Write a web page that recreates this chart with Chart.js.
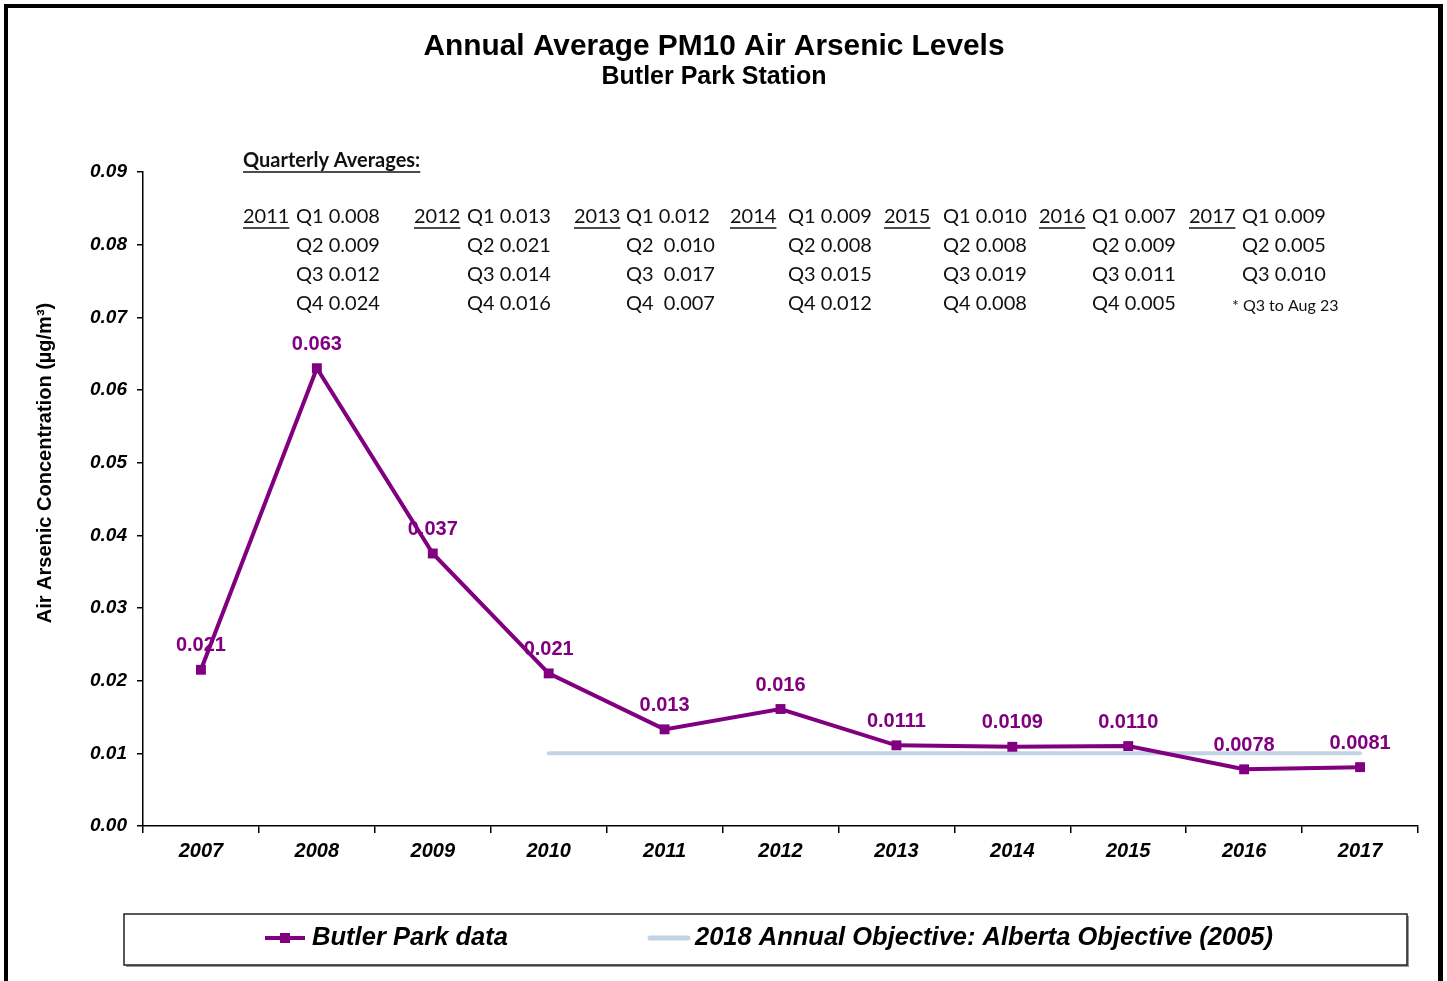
<!DOCTYPE html>
<html>
<head>
<meta charset="utf-8">
<script src="https://cdn.jsdelivr.net/npm/chart.js@4/dist/chart.umd.min.js"></script>
<style>
  html, body { margin: 0; padding: 0; background: #fff; }
  #wrap { width: 1447px; height: 981px; }
</style>
</head>
<body>
<div id="wrap"><canvas id="chart" width="1447" height="981"></canvas></div>
<script>
// annual averages, µg/m³
const years = ["2007", "2008", "2009", "2010", "2011", "2012", "2013", "2014", "2015", "2016", "2017"]
const butlerPark = [0.0215, 0.063, 0.0375, 0.021, 0.0133, 0.0161, 0.0111, 0.0109, 0.0110, 0.0078, 0.0081]
const pointLabels = ["0.021", "0.063", "0.037", "0.021", "0.013", "0.016", "0.0111", "0.0109", "0.0110", "0.0078", "0.0081"]
const objective = [null, null, null, 0.01, 0.01, 0.01, 0.01, 0.01, 0.01, 0.01, 0.01]
const yTicks = [0, 0.01, 0.02, 0.03, 0.04, 0.05, 0.06, 0.07, 0.08, 0.09]

// quarterly averages shown as a text block
const quarterYears = ["2011", "2012", "2013", "2014", "2015", "2016", "2017"]
const q1 = ["0.008", "0.013", "0.012", "0.009", "0.010", "0.007", "0.009"]
const q2 = ["0.009", "0.021", " 0.010", "0.008", "0.008", "0.009", "0.005"]
const q3 = ["0.012", "0.014", " 0.017", "0.015", "0.019", "0.011", "0.010"]
const q4 = ["0.024", "0.016", " 0.007", "0.012", "0.008", "0.005", null]
const q4Note = "* Q3 to Aug 23"

const PURPLE = "#800080"
const OBJ = "#c3d3e6"
const SANS = '"Liberation Sans", Arial, sans-serif'
const QFONT = 'Lato, "Open Sans", sans-serif'

// x positions of the quarterly columns (year, quarter text)
const qCols = [[243, 296], [414, 467], [574, 626], [730, 788], [884, 943], [1039, 1092], [1189, 1242]]
const qRows = [217, 246, 275, 304]

function underline(ctx, x, y, w) {
  ctx.save()
  ctx.strokeStyle = "#111"
  ctx.lineWidth = 1.5
  ctx.beginPath()
  ctx.moveTo(x, y)
  ctx.lineTo(x + w, y)
  ctx.stroke()
  ctx.restore()
}

const decorations = {
  id: "decorations",
  beforeDraw(chart) {
    const ctx = chart.ctx
    ctx.save()
    ctx.fillStyle = "#fff"
    ctx.fillRect(0, 0, chart.width, chart.height)
    ctx.restore()
  },
  beforeDatasetsDraw(chart) {
    // point labels go under the line, like the original
    const ctx = chart.ctx
    const meta = chart.getDatasetMeta(0)
    ctx.save()
    ctx.font = "bold 20px " + SANS
    ctx.fillStyle = PURPLE
    ctx.textAlign = "center"
    ctx.textBaseline = "middle"
    meta.data.forEach((pt, i) => {
      ctx.fillText(pointLabels[i], pt.x, pt.y - 24)
    })
    ctx.restore()
  },
  afterDraw(chart) {
    const ctx = chart.ctx
    ctx.save()

    // outer frame (no bottom edge in the original)
    ctx.fillStyle = "#000"
    ctx.fillRect(4, 4, 1439, 4)
    ctx.fillRect(4, 4, 4, 977)
    ctx.fillRect(1438, 4, 5, 977)

    // titles
    ctx.fillStyle = "#000"
    ctx.textAlign = "center"
    ctx.textBaseline = "middle"
    ctx.font = "bold 30px " + SANS
    ctx.fillText("Annual Average PM10 Air Arsenic Levels", 714, 47, 581)
    ctx.font = "bold 25px " + SANS
    ctx.fillText("Butler Park Station", 714, 77, 228)

    // y axis title
    ctx.save()
    ctx.translate(45, 463)
    ctx.rotate(-Math.PI / 2)
    ctx.font = "bold 20px " + SANS
    ctx.fillText("Air Arsenic Concentration (µg/m³)", 0, 0, 337)
    ctx.restore()

    // quarterly block
    ctx.textAlign = "left"
    ctx.fillStyle = "#111"
    ctx.font = "bold 20px " + QFONT
    ctx.fillText("Quarterly Averages:", 243, 161)
    underline(ctx, 243, 172, ctx.measureText("Quarterly Averages:").width)
    ctx.font = "20px " + QFONT
    quarterYears.forEach((yr, i) => {
      const [yx, qx] = qCols[i]
      ctx.fillText(yr, yx, qRows[0])
      underline(ctx, yx, qRows[0] + 11, ctx.measureText(yr).width)
      const vals = [q1[i], q2[i], q3[i], q4[i]]
      vals.forEach((v, r) => {
        if (v !== null) ctx.fillText("Q" + (r + 1) + " " + v, qx, qRows[r])
      })
    })
    ctx.font = "16px " + QFONT
    ctx.fillText(q4Note, 1232, 306)

    // legend box
    ctx.fillStyle = "#999"
    ctx.fillRect(126, 965, 1283, 2)
    ctx.fillRect(1407, 916, 2, 51)
    ctx.strokeStyle = "#222"
    ctx.lineWidth = 1.5
    ctx.strokeRect(124, 914, 1283, 51)

    const ds = chart.data.datasets
    ctx.lineCap = "butt"
    ctx.strokeStyle = PURPLE
    ctx.lineWidth = 4
    ctx.beginPath()
    ctx.moveTo(265, 938)
    ctx.lineTo(305, 938)
    ctx.stroke()
    ctx.fillStyle = PURPLE
    ctx.fillRect(280, 933, 10, 10)

    ctx.lineCap = "round"
    ctx.strokeStyle = OBJ
    ctx.lineWidth = 5
    ctx.beginPath()
    ctx.moveTo(650, 938)
    ctx.lineTo(688, 938)
    ctx.stroke()

    ctx.fillStyle = "#000"
    ctx.textBaseline = "middle"
    ctx.font = "italic bold 26px " + SANS
    ctx.fillText(ds[0].label, 312, 938, 196)
    ctx.fillText(ds[1].label, 695, 938, 578)

    ctx.restore()
  }
}

const tickFont = { family: SANS, size: 20, style: "italic", weight: "bold" }

new Chart(document.getElementById("chart"), {
  type: "line",
  data: {
    labels: years,
    datasets: [
      {
        label: "Butler Park data",
        data: butlerPark,
        borderColor: PURPLE,
        backgroundColor: PURPLE,
        borderWidth: 4,
        pointStyle: "rect",
        pointRadius: 7,
        pointBorderWidth: 0,
        pointBackgroundColor: PURPLE,
        tension: 0,
        order: 1
      },
      {
        label: "2018 Annual Objective: Alberta Objective (2005)",
        data: objective,
        borderColor: OBJ,
        borderWidth: 4,
        borderCapStyle: "round",
        pointRadius: 0,
        tension: 0,
        order: 2
      }
    ]
  },
  options: {
    responsive: false,
    animation: false,
    devicePixelRatio: 1,
    layout: { padding: { left: 0, top: 172, right: 29, bottom: 95 } },
    plugins: {
      legend: { display: false },
      title: { display: false },
      tooltip: { enabled: false }
    },
    scales: {
      x: {
        offset: true,
        grid: { display: true, offset: true, drawOnChartArea: false, drawTicks: true, tickLength: 7, color: "#000", lineWidth: 1.5 },
        border: { display: true, color: "#000", width: 1.5 },
        ticks: { color: "#000", font: tickFont, padding: 6, autoSkip: false, maxRotation: 0 },
        afterFit(s) { s.height = 60 }
      },
      y: {
        min: 0,
        max: 0.09,
        afterBuildTicks(s) { s.ticks = yTicks.map(v => ({ value: v })) },
        grid: { display: true, drawOnChartArea: false, drawTicks: true, tickLength: 6, color: "#000", lineWidth: 1.5 },
        border: { display: true, color: "#000", width: 1.5 },
        ticks: { color: "#000", font: { ...tickFont, size: 19 }, padding: 10, callback: v => Number(v).toFixed(2) },
        afterFit(s) { s.width = 143 }
      }
    }
  },
  plugins: [decorations]
})
</script>
</body>
</html>
